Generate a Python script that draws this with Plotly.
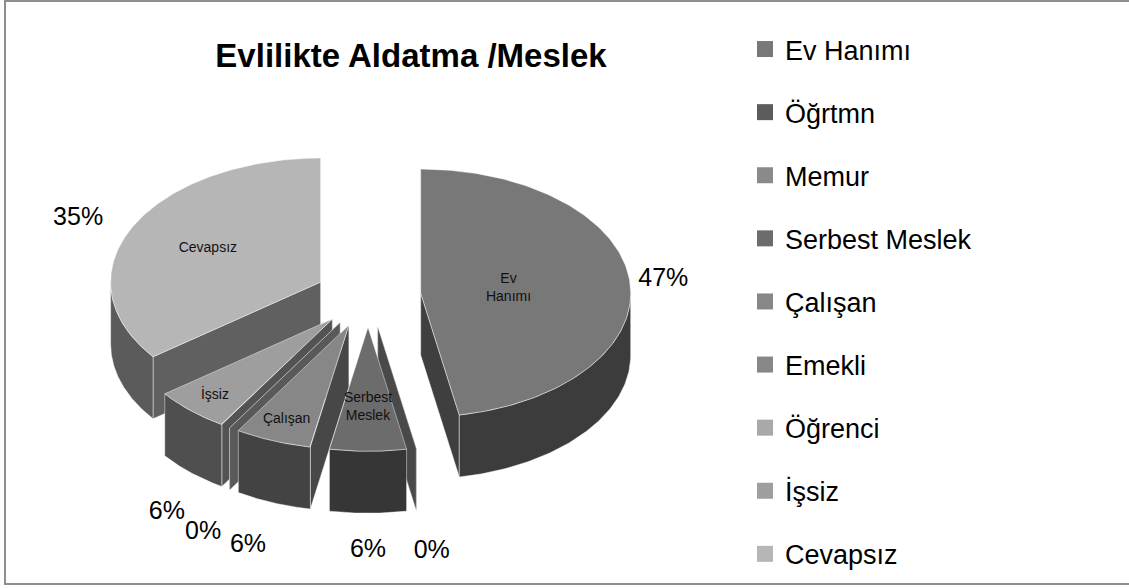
import numpy as np
import plotly.graph_objects as go

# ---- data -------------------------------------------------------------
categories = ["Ev Hanımı", "Öğrtmn", "Memur", "Serbest Meslek", "Çalışan",
              "Emekli", "Öğrenci", "İşsiz", "Cevapsız"]
counts = [8, 0, 0, 1, 1, 0, 0, 1, 6]
inner_labels = ["Ev<br>Hanımı", "", "", "Serbest<br>Meslek", "Çalışan",
                "", "", "İşsiz", "Cevapsız"]
title_text = "Evlilikte Aldatma /Meslek"

# ---- styles -----------------------------------------------------------
colors = ["#787878", "#5c5c5c", "#8a8a8a", "#6c6c6c", "#878787",
          "#878787", "#a9a9a9", "#9e9e9e", "#b6b6b6"]
inner_r = [0.42, 0.6, 0.6, 0.65, 0.82, 0.6, 0.6, 0.83, 0.6]   # inner label radius
outer_k = [1.16, 1.4, 1.4, 1.3, 1.33, 1.24, 1.24, 1.17, 1.29]  # outer label radius
BACK_KY = 1.15

W, H = 1129, 588
CX, CY = 368, 296          # centre of the (unexploded) pie, px
RX, RY = 210, 124          # ellipse radii of the tilted disc
DEPTH = 62                 # thickness of the disc
EXPLODE = 0.252            # radial offset of each slice (fraction of radius)
FONT = "Liberation Sans, Arial, sans-serif"


def shade(hex_color, k):
    h = hex_color.lstrip("#")
    r, g, b = (int(h[i:i + 2], 16) for i in (0, 2, 4))
    return "rgb(%d,%d,%d)" % (r * k, g * k, b * k)


def rim(cx, cy, t, r=1.0):
    """Point on the tilted disc for clockwise angle t (radians from 12 o'clock)."""
    return cx + RX * r * np.sin(t), cy - RY * r * np.cos(t)


total = float(sum(counts))
bounds = np.concatenate([[0.0], np.cumsum(counts)]) / total * 2 * np.pi

slices = []
for i, v in enumerate(counts):
    a0, a1 = bounds[i], bounds[i + 1]
    mid = 0.5 * (a0 + a1)
    px, py = rim(CX, CY, mid, EXPLODE)
    slices.append(dict(i=i, a0=a0, a1=a1, mid=mid, px=px, py=py))

fig = go.Figure()


def poly(xs, ys, fill):
    fig.add_trace(go.Scatter(
        x=list(xs), y=list(ys), mode="lines", fill="toself",
        fillcolor=fill, line=dict(color="rgba(255,255,255,0.55)", width=0.8),
        hoverinfo="skip", showlegend=False))


def cut_face(s, a, fill):
    x1, y1 = rim(s["px"], s["py"], a)
    poly([s["px"], x1, x1, s["px"], s["px"]],
         [s["py"], y1, y1 + DEPTH, s["py"] + DEPTH, s["py"]], fill)


# back slices first, front slices last
order = sorted(slices, key=lambda s: np.cos(s["mid"]), reverse=True)
for s in order:
    i = s["i"]
    top_col = colors[i]
    side_col = shade(top_col, 0.5)
    face_col = shade(top_col, 0.53)
    a0, a1 = s["a0"], s["a1"]
    # radial cut faces turned towards the viewer
    if np.sin(a0) < -1e-9:
        cut_face(s, a0, face_col)
    if np.sin(a1) > 1e-9:
        cut_face(s, a1, face_col)
    # outer wall (front half of the rim)
    w0, w1 = max(a0, np.pi / 2), min(a1, 3 * np.pi / 2)
    if w1 > w0:
        t = np.linspace(w0, w1, 80)
        xt, yt = rim(s["px"], s["py"], t)
        poly(np.concatenate([xt, xt[::-1], xt[:1]]),
             np.concatenate([yt, yt[::-1] + DEPTH, yt[:1]]), side_col)
    # top surface
    if a1 > a0:
        t = np.linspace(a0, a1, 160)
        xt, yt = rim(s["px"], s["py"], t)
        poly(np.concatenate([[s["px"]], xt, [s["px"]]]),
             np.concatenate([[s["py"]], yt, [s["py"]]]), top_col)

# labels inside the slices
ix, iy, itxt = [], [], []
for s in slices:
    if inner_labels[s["i"]]:
        x, y = rim(s["px"], s["py"], s["mid"], inner_r[s["i"]])
        ix.append(x); iy.append(y); itxt.append(inner_labels[s["i"]])
fig.add_trace(go.Scatter(x=ix, y=iy, mode="text", text=itxt,
                         textfont=dict(family=FONT, size=14, color="#111"),
                         hoverinfo="skip", showlegend=False))

# percentage labels outside the slices (front ones sit below the disc wall);
# slices sharing the same angle get a single label
ox, oy, otxt = [], [], []
seen = set()
for s in slices:
    key = round(s["mid"], 6)
    if key in seen:
        continue
    seen.add(key)
    k = outer_k[s["i"]]
    sm, cm = np.sin(s["mid"]), np.cos(s["mid"])
    front = cm < 0
    ky = 1.30 + 0.2 * abs(sm) if front else BACK_KY
    x = s["px"] + RX * k * sm
    y = s["py"] - RY * ky * cm + (DEPTH if front else 0)
    ox.append(x); oy.append(y)
    otxt.append("%d%%" % round(100 * counts[s["i"]] / total))
fig.add_trace(go.Scatter(x=ox, y=oy, mode="text", text=otxt,
                         textfont=dict(family=FONT, size=25, color="#000"),
                         hoverinfo="skip", showlegend=False))

# legend entries
for i, name in enumerate(categories):
    fig.add_trace(go.Scatter(
        x=[None], y=[None], mode="markers", name=name, legendgroup=name,
        marker=dict(symbol="square", size=17, color=colors[i]),
        showlegend=True))

fig.add_shape(type="rect", xref="x", yref="y", x0=5, x1=W + 5, y0=1, y1=584,
              line=dict(color="#8e8e8e", width=2), layer="below")

fig.update_layout(
    width=W, height=H, margin=dict(l=0, r=0, t=0, b=0),
    paper_bgcolor="white", plot_bgcolor="white",
    title=dict(text="<b>%s</b>" % title_text, x=411 / W, xanchor="center",
               y=1 - 55 / H, yanchor="middle",
               font=dict(family=FONT, size=33, color="#000")),
    xaxis=dict(range=[0, W], visible=False, fixedrange=True),
    yaxis=dict(range=[H, 0], visible=False, fixedrange=True),
    legend=dict(x=745 / W, xanchor="left", y=1 - 25 / H, yanchor="top",
                font=dict(family=FONT, size=27, color="#000"),
                tracegroupgap=25, itemsizing="trace", maxheight=1,
                bgcolor="rgba(0,0,0,0)"),
    showlegend=True,
)

fig.write_html("out.html")
